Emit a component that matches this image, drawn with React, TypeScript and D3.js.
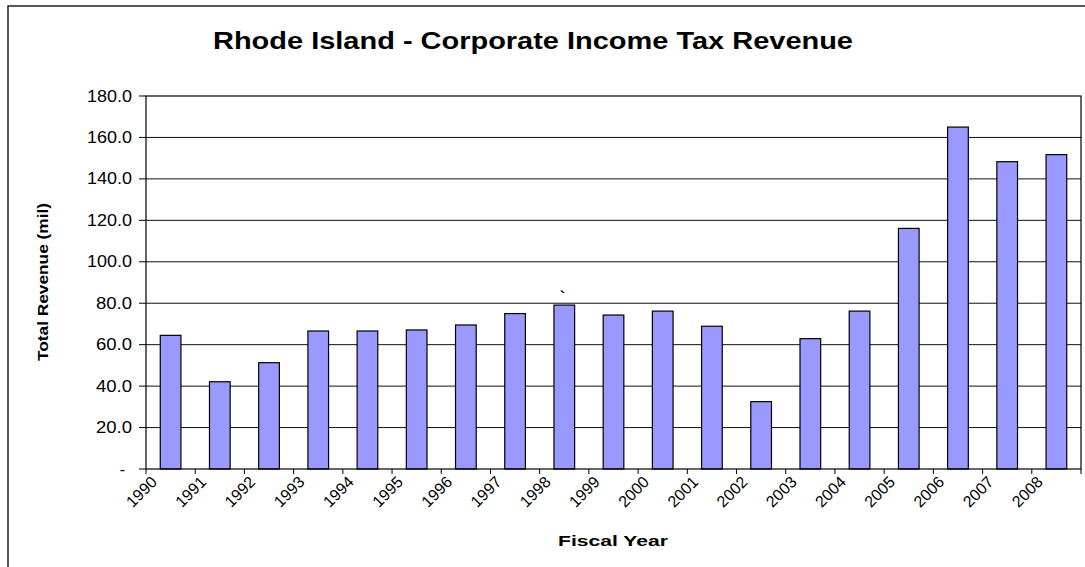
import React from "react";
import * as d3 from "d3";

const years = ["1990","1991","1992","1993","1994","1995","1996","1997","1998","1999","2000","2001","2002","2003","2004","2005","2006","2007","2008"];
const revenue = [64.5,42.1,51.3,66.6,66.6,67.1,69.5,75.0,79.1,74.3,76.2,68.9,32.5,62.9,76.2,116.1,165.0,148.3,151.7];
const yTicks = [0,20,40,60,80,100,120,140,160,180];
const dataLabels = ["","","","","","","","","`","","","","","","","","","",""];

const W = 1085, H = 567;
const M = { left: 146, right: 1081, top: 96, bottom: 469 };
const FONT = "'Liberation Sans', Arial, sans-serif";

export default function App() {
  const x = d3.scaleBand<string>().domain(years).range([M.left, M.right]).padding(0);
  const y = d3.scaleLinear().domain([0, 180]).range([M.bottom, M.top]);
  const step = x.step();
  const bw = step * 0.42;
  const fmt = (v: number) => (v === 0 ? "-" : d3.format(".1f")(v));
  return (
    <svg width={W} height={H} style={{ position: "absolute", left: 0, top: 0, background: "#fff" }}>
      <rect x={0} y={0} width={W} height={H} fill="#fff" />
      <rect x={8} y={6} width={W + 20} height={H + 20} fill="none" stroke="#222" strokeWidth={1.5} />
      <text x={533} y={49} textAnchor="middle" fontFamily={FONT} fontWeight="bold" fontSize={23} textLength={640} lengthAdjust="spacingAndGlyphs">
        Rhode Island - Corporate Income Tax Revenue
      </text>
      {yTicks.filter(t => t > 0 && t < 180).map(t => (
        <line key={"g" + t} x1={M.left} x2={M.right} y1={y(t)} y2={y(t)} stroke="#111" strokeWidth={1} />
      ))}
      {years.map((yr, i) => {
        const bx = (x(yr) as number) + (step - bw) / 2;
        return (
          <g key={yr}>
            <rect x={bx} y={y(revenue[i])} width={bw} height={M.bottom - y(revenue[i])} fill="#9999FF" stroke="#000" strokeWidth={1.2} />
            {dataLabels[i] && (
              <text x={bx + bw / 2 - 2} y={y(revenue[i]) - 2} textAnchor="middle" fontFamily={FONT} fontWeight="bold" fontSize={16}>{dataLabels[i]}</text>
            )}
          </g>
        );
      })}
      <rect x={M.left} y={M.top} width={M.right - M.left} height={M.bottom - M.top} fill="none" stroke="#000" strokeWidth={1.2} />
      {yTicks.map(t => (
        <g key={"y" + t}>
          <line x1={M.left - 7} x2={M.left} y1={y(t)} y2={y(t)} stroke="#000" />
          <text x={t === 0 ? M.left - 21 : M.left - 14} y={y(t) + 5.5} textAnchor="end" fontFamily={FONT} fontSize={16} textLength={t === 0 ? undefined : t >= 100 ? 45 : 36} lengthAdjust="spacingAndGlyphs">{fmt(t)}</text>
        </g>
      ))}
      {years.concat(["end"]).map((yr, i) => {
        const tx = M.left + i * step;
        return <line key={"xt" + i} x1={tx} x2={tx} y1={M.bottom} y2={M.bottom + 5} stroke="#000" />;
      })}
      {years.map((yr, i) => {
        const tx = (x(yr) as number) + 12;
        const ty = M.bottom + 14;
        return (
          <text key={"xl" + yr} x={tx} y={ty} textAnchor="end" transform={`rotate(-45 ${tx} ${ty})`} fontFamily={FONT} fontSize={16}>{yr}</text>
        );
      })}
      <text x={613} y={546} textAnchor="middle" fontFamily={FONT} fontWeight="bold" fontSize={15} textLength={110} lengthAdjust="spacingAndGlyphs">Fiscal Year</text>
      <text transform={`translate(48 282) rotate(-90)`} textAnchor="middle" fontFamily={FONT} fontWeight="bold" fontSize={15} textLength={158} lengthAdjust="spacingAndGlyphs">Total Revenue (mil)</text>
    </svg>
  );
}
